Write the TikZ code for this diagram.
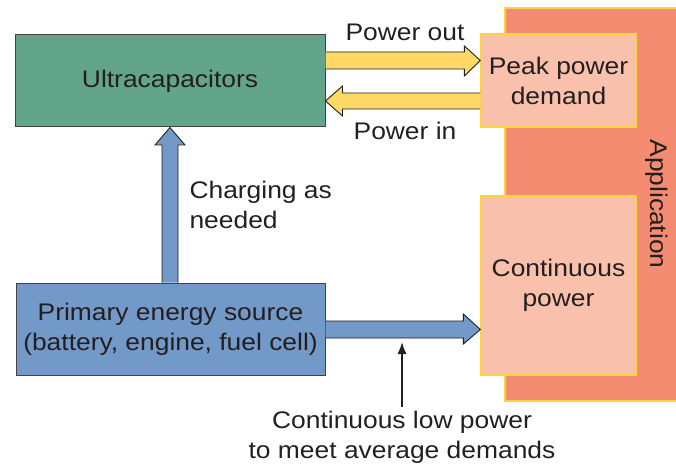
\documentclass[tikz,border=0pt]{standalone}
\usepackage{fontspec}
\setmainfont{Liberation Sans}[FakeStretch=1.1]
\usetikzlibrary{calc,arrows.meta}
\definecolor{ucgreen}{HTML}{63A58A}
\definecolor{srcblue}{HTML}{7399C8}
\definecolor{arrowyellow}{HTML}{FFD966}
\definecolor{peach}{HTML}{F9C0AB}
\definecolor{salmon}{HTML}{F48C72}
\definecolor{goldline}{HTML}{FFD23F}
\definecolor{inkdark}{HTML}{231F20}
\begin{document}
\begin{tikzpicture}[x=1pt,y=-1pt,
  every node/.style={font=\fontsize{24}{30}\selectfont, text=inkdark, align=center},
  darkbox/.style={draw=inkdark!85, line width=1pt, inner sep=0pt},
  appbox/.style={draw=goldline, line width=1.3pt, inner sep=0pt, fill=peach},
  fatyellow/.style={fill=arrowyellow, draw=inkdark, line width=0.9pt, line join=miter},
  fatblue/.style={fill=srcblue, draw=inkdark, line width=0.9pt, line join=miter},
  thinarrow/.style={draw=inkdark, line width=1.6pt, -{Latex[length=12pt,width=9pt]}}
]
\useasboundingbox (0,0) rectangle (676,470);
% application background
\fill[salmon] (505,8) rectangle (677,401);
\draw[goldline, line width=1.3pt] (677,8) -- (505,8) -- (505,401) -- (677,401);
\node[rotate=-90] (app) at (657,204) {Application};

% boxes
\node[darkbox, fill=ucgreen, minimum width=310pt, minimum height=92pt] (uc) at (170,81) {Ultracapacitors};
\node[darkbox, fill=srcblue, minimum width=309pt, minimum height=92pt] (prim) at (170.5,329) {Primary energy source\\(battery, engine, fuel cell)};
\node[appbox, minimum width=155pt, minimum height=93pt] (peak) at (558.5,80.5) {Peak power\\demand};
\node[appbox, minimum width=155pt, minimum height=179pt] (cont) at (558.5,285.5) {Continuous\\power};

% power out (uc -> peak)
\draw[fatyellow] let \p1=(uc.east), \p2=(peak.west) in
  (\x1,52) -- (\x2-16pt,52) -- (\x2-16pt,46) -- (\x2,60.5) -- (\x2-16pt,76) -- (\x2-16pt,69) -- (\x1,69);
% power in (peak -> uc)
\draw[fatyellow] let \p1=(peak.west), \p2=(uc.east) in
  (\x1,93) -- (\x2+17pt,93) -- (\x2+17pt,86) -- (\x2,101) -- (\x2+17pt,116) -- (\x2+17pt,109) -- (\x1,109);
% charging (prim -> uc)
\draw[fatblue] let \p1=(prim.north), \p2=(uc.south) in
  (162,\y1) -- (162,145) -- (155,145) -- (170,\y2) -- (185,145) -- (178,145) -- (178,\y1);
% continuous (prim -> cont)
\draw[fatblue] let \p1=(prim.east), \p2=(cont.west) in
  (\x1,321) -- (\x2-17pt,321) -- (\x2-17pt,314) -- (\x2,329.5) -- (\x2-17pt,344) -- (\x2-17pt,338) -- (\x1,338);

% labels
\node (pout) at (405,32) {Power out};
\node (pin) at (405,131) {Power in};
\node[anchor=west, align=left] (chg) at (186,205) {Charging as\\needed};
\node (low) at (402,437) {Continuous low power\\to meet average demands};
\coordinate (lowtip) at (402,342);
\draw[thinarrow] (low.north) -- (lowtip);
\end{tikzpicture}
\end{document}
